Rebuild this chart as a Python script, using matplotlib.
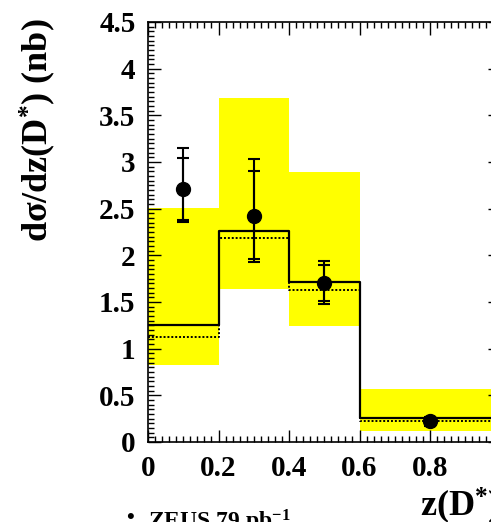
import matplotlib
matplotlib.use("Agg")
import matplotlib.pyplot as plt
from matplotlib.ticker import MultipleLocator

# serif bold, like the ROOT plot
plt.rcParams['font.family'] = ['Liberation Serif', 'DejaVu Serif']
plt.rcParams['font.weight'] = 'bold'
plt.rcParams['mathtext.fontset'] = 'custom'
plt.rcParams['mathtext.rm'] = 'Liberation Serif:bold'
plt.rcParams['mathtext.it'] = 'Liberation Serif:bold'
plt.rcParams['mathtext.bf'] = 'Liberation Serif:bold'

# theory histogram (bins in z)
bin_edges = [0.0, 0.2, 0.4, 0.6, 1.0]
theory = [1.25, 2.26, 1.71, 0.26]
theory_low = [1.13, 2.19, 1.63, 0.23]
band_lo = [0.82, 1.64, 1.24, 0.12]
band_hi = [2.51, 3.69, 2.89, 0.57]

# ZEUS data
data_x = [0.1, 0.3, 0.5, 0.8]
data_y = [2.71, 2.42, 1.70, 0.22]
stat_up = [0.33, 0.48, 0.20, 0.03]
stat_dn = [0.33, 0.46, 0.19, 0.03]
tot_up = [0.44, 0.61, 0.24, 0.05]
tot_dn = [0.35, 0.49, 0.22, 0.05]

x_ticks = [0, 0.2, 0.4, 0.6, 0.8]
x_labels = ['0', '0.2', '0.4', '0.6', '0.8']
y_ticks = [0, 0.5, 1, 1.5, 2, 2.5, 3, 3.5, 4, 4.5]
y_labels = ['0', '0.5', '1', '1.5', '2', '2.5', '3', '3.5', '4', '4.5']

fig = plt.figure(figsize=(4.91, 5.22), dpi=100)
ax = fig.add_axes([148 / 491, 80 / 522, 352.5 / 491, 420 / 522])

# yellow uncertainty band
for i in range(len(theory)):
    ax.fill_between([bin_edges[i], bin_edges[i + 1]], band_lo[i], band_hi[i],
                    color='#ffff00', lw=0, zorder=1)

# step histograms
steps = theory + [theory[-1]]
steps_low = theory_low + [theory_low[-1]]
ax.step(bin_edges, steps, where='post', color='black', lw=1.6, zorder=3)
ax.step(bin_edges, steps_low, where='post', color='black', lw=1.4,
        linestyle=(0, (1, 1)), zorder=3)

# data: total and stat error bars
ax.errorbar(data_x, data_y, yerr=[tot_dn, tot_up], fmt='none', ecolor='black',
            elinewidth=1.5, capsize=4, capthick=1.5, zorder=4)
ax.errorbar(data_x, data_y, yerr=[stat_dn, stat_up], fmt='o', color='black',
            ms=10, elinewidth=1.5, capsize=4, capthick=1.5, zorder=5)

ax.set_xlim(0, 1.0)
ax.set_ylim(0, 4.5)
ax.set_xticks(x_ticks)
ax.set_xticklabels(x_labels)
ax.set_yticks(y_ticks)
ax.set_yticklabels(y_labels)
ax.xaxis.set_minor_locator(MultipleLocator(0.02))
ax.yaxis.set_minor_locator(MultipleLocator(0.05))
ax.tick_params(which='both', direction='in', top=True, right=True, width=1)
ax.tick_params(which='major', length=9, labelsize=21, pad=9)
ax.tick_params(which='minor', length=4)
for s in ax.spines.values():
    s.set_linewidth(1.2)

# axis titles
fig.text(38 / 491, 1 - 130 / 522, 'dσ/dz(D$^{*}$) (nb)', rotation=90,
         ha='center', va='center', fontsize=26, fontweight='bold')
fig.text(420 / 491, 1 - 516 / 522, 'z(D$^{*}$)', ha='left', va='baseline',
         fontsize=26, fontweight='bold')

# legend (cut at the bottom)
fig.text(130 / 491, 1 - 523 / 522, '•', ha='center', va='baseline', fontsize=16)
fig.text(148 / 491, 1 - 529 / 522, 'ZEUS 79 pb$^{-1}$', ha='left', va='baseline',
         fontsize=17, fontweight='bold')

fig.savefig('out.png', dpi=100)
